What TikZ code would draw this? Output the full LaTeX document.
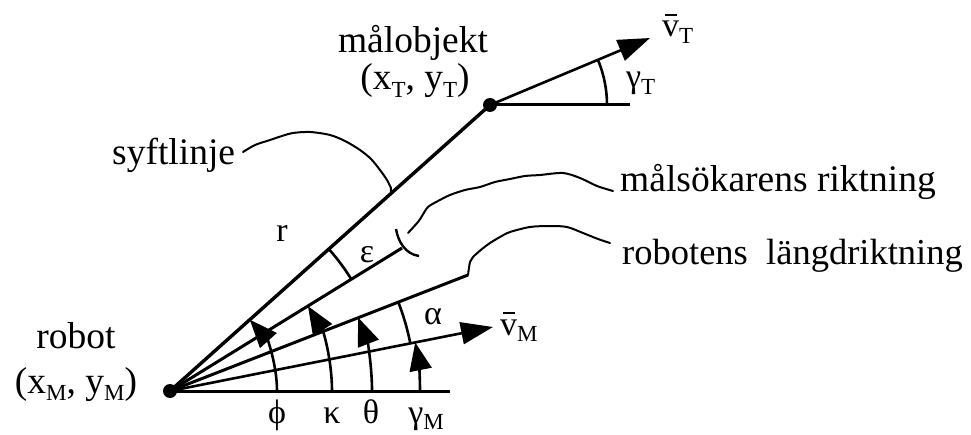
\documentclass[tikz,border=0pt]{standalone}
\usepackage{fontspec}
\setmainfont{Liberation Serif}
\usetikzlibrary{arrows.meta,calc}
\newcommand\sbs[1]{\raisebox{-0.2em}{\fontsize{23}{25}\selectfont #1}}
\newcommand\vbar{\makebox[0pt][l]{\hspace{0.09em}\raisebox{0.62em}{\rule{0.34em}{0.06em}}}v}
\begin{document}
\begin{tikzpicture}[x=1pt,y=1pt,
  dot/.style={circle,fill=black,inner sep=0pt,minimum size=14pt},
  ray/.style={line width=3pt},
  vel/.style={line width=2.6pt,-{Triangle[length=32pt,width=22pt]}},
  angarc/.style={line width=2.6pt},
  angarr/.style={line width=2.6pt,-{Triangle[length=28pt,width=22pt]}},
  wig/.style={line width=2pt,line join=round,line cap=round},
  txt/.style={font=\fontsize{37.5}{42}\selectfont,inner sep=0pt},
  gk/.style={font=\fontsize{34}{38}\selectfont,inner sep=0pt}]
\useasboundingbox (0,0) rectangle (971,434);

% points
\node[dot] (O) at (170,43) {};
\node[dot] (T) at (490,329) {};
\coordinate (B) at (450,43);
\coordinate (S) at (402,186);
\coordinate (L) at (468,159);
\coordinate (VM) at (493,107);
\coordinate (TH) at (630,329);
\coordinate (VT) at (650,396);

% rays
\draw[ray,line width=3.4pt] (O.center) -- (T.center);
\draw[ray] (O.center) -- (B);
\draw[ray] (O.center) -- (S);
\draw[ray] (O.center) -- (L);
\draw[vel] (O.center) -- (VM);
\draw[ray] (T.center) -- (TH);
\draw[vel] (T.center) -- (VT);

% angle arcs with arrows
\draw[angarr] (O.center) ++(0:107pt) arc[start angle=0,end angle=41.8,radius=107pt];
\draw[angarr] (O.center) ++(0:162pt) arc[start angle=0,end angle=31.6,radius=162pt];
\draw[angarr] (O.center) ++(0:202pt) arc[start angle=0,end angle=21.3,radius=202pt];
\draw[angarr] (O.center) ++(0:250pt) arc[start angle=0,end angle=11.2,radius=250pt];
% plain arcs
\draw[angarc] (O.center) ++(31.6:213pt) arc[start angle=31.6,end angle=41.8,radius=213pt];
\draw[angarc] (O.center) ++(11.2:245pt) arc[start angle=11.2,end angle=21.3,radius=245pt];
\draw[angarc] (T.center) ++(0:117pt) arc[start angle=0,end angle=22.7,radius=117pt];

% bracket at seeker end
\draw[line width=2.4pt] (396,205) .. controls (398,193) and (405,180) .. (419,178);

% pointer lines
\coordinate (P1) at ($(O.center)!0.69!(T.center)$);
\draw[wig] plot[smooth] coordinates {(243,282) (255,289) (270,294) (282,298) (293,301) (310,302) (330,299) (345,293) (360,284) (371,275) (380,264) (387,254) (391,246)} -- (P1);
\draw[wig] plot[smooth] coordinates {(408,201) (418,212) (422,218) (428,227) (438,233) (450,239) (465,244) (480,247) (495,252) (510,255) (525,258) (540,259) (563,261) (580,256) (597,248) (613,243)};
\draw[wig] plot[smooth] coordinates {(L) (470,172) (473,177) (482,185) (490,191) (500,197) (510,202) (530,207) (550,208) (567,207) (583,201) (598,195) (610,191)};

% labels
\node[txt,anchor=base] (robot) at (76,86) {robot};
\node[txt,anchor=base] (xm) at (76,41) {(x\sbs{M}, y\sbs{M})};
\node[txt,anchor=base west] (syft) at (112,269) {syftlinje};
\node[txt,anchor=base] (mal) at (413,381) {målobjekt};
\node[txt,anchor=base] (xt) at (415,344) {(x\sbs{T}, y\sbs{T})};
\node[txt,anchor=base west] (seek) at (620,242) {målsökarens riktning};
\node[txt,anchor=base west,font=\fontsize{36.5}{41}\selectfont] (long) at (622,169) {robotens\ \ längdriktning};
\node[gk] (r) at (282,201) {r};
\node[gk] (eps) at (367,179) {ε};
\node[gk] (alpha) at (433,117) {α};
\node[gk,anchor=base west] (vm) at (500,99) {\vbar\sbs{M}};
\node[gk,anchor=base west] (vt) at (662,397) {\vbar\sbs{T}};
\node[gk,anchor=base west] (gt) at (626,346) {γ\sbs{T}};
\node[gk,anchor=base] (phi) at (277,11) {ϕ};
\node[gk,anchor=base] (kap) at (332,11) {κ};
\node[gk,anchor=base] (th) at (371,11) {θ};
\node[gk,anchor=base] (gm) at (426,11) {γ\sbs{M}};
\end{tikzpicture}
\end{document}
